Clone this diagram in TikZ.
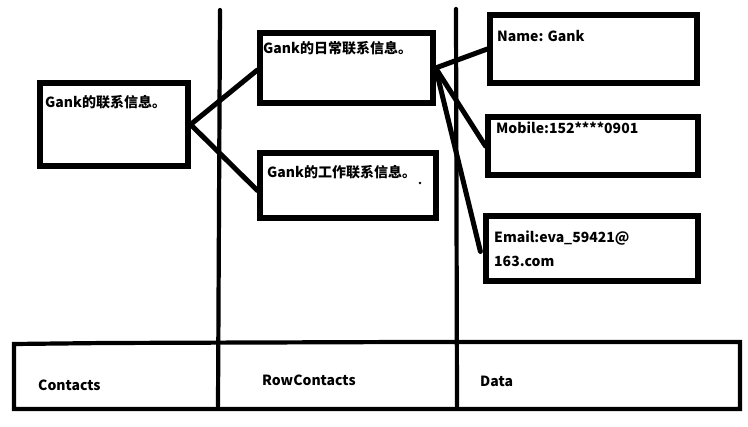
\documentclass[tikz,border=0pt]{standalone}
\usepackage{fontspec}
\newfontfamily\cjk{Noto Sans CJK SC}
\begin{document}
\begin{tikzpicture}[x=1pt,y=-1pt,
  box/.style={draw=black,line width=5.2pt,rectangle,inner sep=0pt},
  lbl/.style={anchor=west,inner sep=0pt,font=\cjk\bfseries\fontsize{14}{16}\selectfont},
  conn/.style={draw=black,line width=5pt,line cap=round},
  rule/.style={draw=black,line width=4.2pt,line cap=round}]
\useasboundingbox[fill=white] (0,0) rectangle (748,427);
% boxes
\node[box,minimum width=148pt,minimum height=83pt] (root) at (114,124.5) {};
\node[box,minimum width=173pt,minimum height=70pt] (daily) at (346.5,68) {};
\node[box,minimum width=176pt,minimum height=65pt] (work) at (348,185.5) {};
\node[box,minimum width=207pt,minimum height=68pt] (name) at (593.5,49) {};
\node[box,minimum width=210pt,minimum height=58pt] (mobile) at (593,146) {};
\node[box,minimum width=212pt,minimum height=65pt] (email) at (592,248.5) {};
% labels
\node[lbl] (troot) at (45,102) {Gank的联系信息。};
\node[lbl] (tdaily) at (263,48) {Gank的日常联系信息。};
\node[lbl] (twork) at (267,172) {Gank的工作联系信息。};
\node[lbl] (tname) at (497,36) {Name: Gank};
\node[lbl] (tmobile) at (496,128) {Mobile:152****0901};
\node[lbl] (temail) at (494,238) {Email:eva\_59421@};
\node[lbl] (temail2) at (494,261) {163.com};
\fill (420,183) circle (1.3pt);
% connectors
\draw[conn] (root.east) -- ([yshift=-2pt]daily.west);
\draw[conn] (root.east) -- ([yshift=-5pt]work.west);
\draw[conn] (daily.east) -- (name.west);
\draw[conn] (daily.east) -- (mobile.west);
\draw[conn] (daily.east) -- ([xshift=-3pt,yshift=-3pt]email.west);
% bottom table
\coordinate (bl) at (14,409);
\coordinate (br) at (740,409);
\coordinate (tl) at (14,344);
\coordinate (tr) at (740,342);
\draw[rule] (tl) -- (105,343) -- (410,342) -- (tr) -- (br) -- (bl) -- cycle;
\coordinate (v1t) at (220,10);
\coordinate (v1b) at (218,406);
\coordinate (v2t) at (456,9);
\coordinate (v2b) at (457,406);
\draw[rule] (v1t) -- (v1b);
\draw[rule] (v2t) -- (v2b);
\node[lbl] (tcontacts) at (38,385) {Contacts};
\node[lbl] (trow) at (262,380) {RowContacts};
\node[lbl] (tdata) at (480,381) {Data};
\end{tikzpicture}
\end{document}
